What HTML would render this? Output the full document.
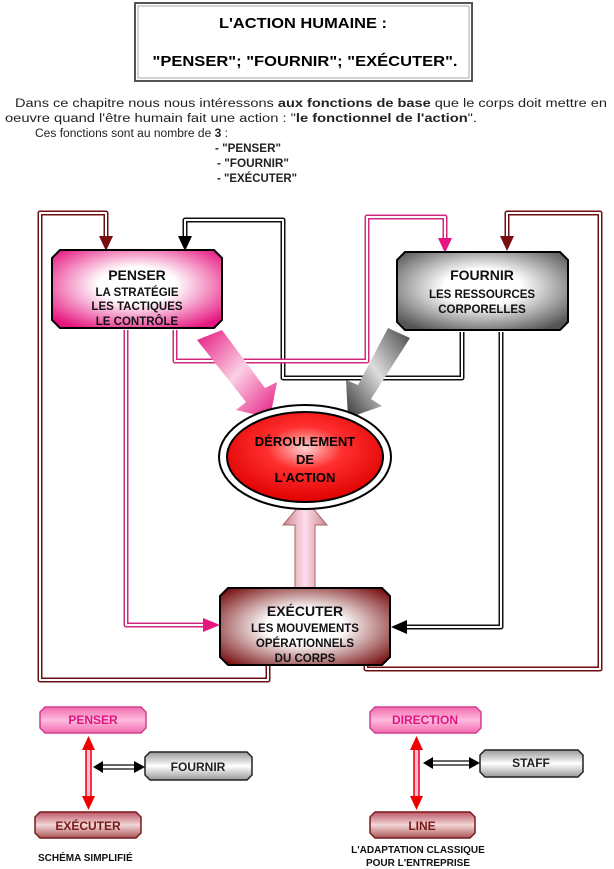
<!DOCTYPE html>
<html><head><meta charset="utf-8"><style>
html,body{margin:0;padding:0;background:#fff;}
svg{display:block;font-family:"Liberation Sans",sans-serif;}
</style></head><body>
<svg width="614" height="869" viewBox="0 0 614 869" xmlns="http://www.w3.org/2000/svg">
<defs>
<radialGradient id="gp" cx="50%" cy="45%" r="65%"><stop offset="0" stop-color="#fff"/><stop offset="0.35" stop-color="#fff"/><stop offset="1" stop-color="#e6157f"/></radialGradient>
<radialGradient id="gg" cx="50%" cy="45%" r="65%"><stop offset="0" stop-color="#fff"/><stop offset="0.35" stop-color="#fff"/><stop offset="1" stop-color="#555"/></radialGradient>
<radialGradient id="gb" cx="50%" cy="50%" r="65%"><stop offset="0" stop-color="#fff"/><stop offset="0.35" stop-color="#fff"/><stop offset="1" stop-color="#7a1416"/></radialGradient>
<radialGradient id="gr" cx="50%" cy="40%" r="60%"><stop offset="0" stop-color="#ffd0d0"/><stop offset="0.4" stop-color="#ff3030"/><stop offset="1" stop-color="#e00000"/></radialGradient>
<linearGradient id="ap" x1="0" y1="0" x2="1" y2="1"><stop offset="0" stop-color="#e6157f"/><stop offset="0.5" stop-color="#fbd0e4"/><stop offset="1" stop-color="#e6157f"/></linearGradient>
<linearGradient id="ag" x1="1" y1="0" x2="0" y2="1"><stop offset="0" stop-color="#444"/><stop offset="0.5" stop-color="#ddd"/><stop offset="1" stop-color="#333"/></linearGradient>
<linearGradient id="ab" x1="0" y1="0" x2="1" y2="0"><stop offset="0" stop-color="#c88"/><stop offset="0.5" stop-color="#fde"/><stop offset="1" stop-color="#c88"/></linearGradient>
<linearGradient id="sp" x1="0" y1="0" x2="0" y2="1"><stop offset="0" stop-color="#f06bb0"/><stop offset="0.5" stop-color="#fbd"/><stop offset="1" stop-color="#f06bb0"/></linearGradient>
<linearGradient id="sg" x1="0" y1="0" x2="0" y2="1"><stop offset="0" stop-color="#999"/><stop offset="0.5" stop-color="#fff"/><stop offset="1" stop-color="#999"/></linearGradient>
<linearGradient id="sb" x1="0" y1="0" x2="0" y2="1"><stop offset="0" stop-color="#b56"/><stop offset="0.5" stop-color="#f3d6d6"/><stop offset="1" stop-color="#a55"/></linearGradient>
</defs>

<rect x="135" y="3" width="337" height="78" fill="#fff" stroke="#555" stroke-width="2"/>
<rect x="138" y="6" width="331" height="72" fill="none" stroke="#aaa" stroke-width="1"/>
<text x="303" y="28" font-size="15" font-weight="bold" text-anchor="middle" textLength="168" lengthAdjust="spacingAndGlyphs">L'ACTION HUMAINE :</text>
<text x="305" y="66" font-size="15" font-weight="bold" text-anchor="middle" textLength="305" lengthAdjust="spacingAndGlyphs">"PENSER"; "FOURNIR"; "EXÉCUTER".</text>

<g font-size="11.5" fill="#222">
<text x="15" y="107" textLength="592" lengthAdjust="spacingAndGlyphs">Dans ce chapitre nous nous intéressons <tspan font-weight="bold">aux fonctions de base</tspan> que le corps doit mettre en</text>
<text x="5" y="122" textLength="472" lengthAdjust="spacingAndGlyphs">oeuvre quand l'être humain fait une action : "<tspan font-weight="bold">le fonctionnel de l'action</tspan>".</text>
<text x="35" y="137" textLength="193" lengthAdjust="spacingAndGlyphs">Ces fonctions sont au nombre de <tspan font-weight="bold">3</tspan> :</text>
<text x="215" y="152" font-weight="bold" textLength="66" lengthAdjust="spacingAndGlyphs">- "PENSER"</text>
<text x="217" y="167" font-weight="bold" textLength="72" lengthAdjust="spacingAndGlyphs">- "FOURNIR"</text>
<text x="217" y="182" font-weight="bold" textLength="80" lengthAdjust="spacingAndGlyphs">- "EXÉCUTER"</text>
</g>

<g fill="none" stroke-linejoin="round">
<g stroke="#6b0f12" stroke-width="5">
<path d="M106 240 V213 H40 V680 H268 V662"/>
<path d="M507 240 V213 H600 V669 H366 V662"/>
</g>
<g stroke="#fff" stroke-width="2">
<path d="M106 240 V213 H40 V680 H268 V662"/>
<path d="M507 240 V213 H600 V669 H366 V662"/>
</g>
<g stroke="#111" stroke-width="5">
<path d="M185 238 V220 H283 V378 H462 V332"/>
<path d="M501 332 V627 H405"/>
</g>
<g stroke="#fff" stroke-width="2">
<path d="M185 238 V220 H283 V378 H462 V332"/>
<path d="M501 332 V627 H405"/>
</g>
<g stroke="#d3287e" stroke-width="5">
<path d="M175 330 V361 H367 V217 H445 V240"/>
<path d="M126 330 V625 H205"/>
</g>
<g stroke="#fff" stroke-width="2">
<path d="M175 330 V361 H367 V217 H445 V240"/>
<path d="M126 330 V625 H205"/>
</g>
</g>
<polygon points="99,236 113,236 106,251" fill="#7a0d10"/>
<polygon points="500,236 514,236 507,251" fill="#7a0d10"/>
<polygon points="178,236 192,236 185,251" fill="#000"/>
<polygon points="438,238 452,238 445,253" fill="#e6157f"/>
<polygon points="203,618 203,632 220,625" fill="#e6157f"/>
<polygon points="407,620 407,634 391,627" fill="#000"/>

<polygon points="197,340 222,330 265,388 277,382 270,418 236,410 246,402" fill="url(#ap)"/>
<polygon points="410,338 388,328 358,385 346,380 348,418 382,406 371,399" fill="url(#ag)"/>
<polygon points="295,588 295,525 283,525 305,499 327,525 315,525 315,588" fill="url(#ab)" stroke="#a66" stroke-width="1"/>

<ellipse cx="305" cy="457" rx="86" ry="52" fill="#fff" stroke="#000" stroke-width="2"/>
<ellipse cx="305" cy="457" rx="78" ry="45" fill="url(#gr)" stroke="#000" stroke-width="2"/>
<g font-size="13" font-weight="bold" text-anchor="middle">
<text x="305" y="446">DÉROULEMENT</text>
<text x="305" y="464">DE</text>
<text x="305" y="482">L'ACTION</text>
</g>

<polygon points="60,250 214,250 222,258 222,320 214,328 60,328 52,320 52,258" fill="url(#gp)" stroke="#000" stroke-width="2"/>
<polygon points="405,252 560,252 568,260 568,322 560,330 405,330 397,322 397,260" fill="url(#gg)" stroke="#000" stroke-width="2"/>
<polygon points="228,588 382,588 390,596 390,657 382,665 228,665 220,657 220,596" fill="url(#gb)" stroke="#000" stroke-width="2"/>
<g font-weight="bold" text-anchor="middle" fill="#111">
<text x="137" y="280" font-size="14">PENSER</text>
<text x="137" y="296" font-size="11.5">LA STRATÉGIE</text>
<text x="137" y="310" font-size="11.5">LES TACTIQUES</text>
<text x="137" y="325" font-size="11.5">LE CONTRÔLE</text>
<text x="482" y="280" font-size="14">FOURNIR</text>
<text x="482" y="298" font-size="11.5">LES RESSOURCES</text>
<text x="482" y="313" font-size="11.5">CORPORELLES</text>
<text x="305" y="616" font-size="14">EXÉCUTER</text>
<text x="305" y="632" font-size="11.5">LES MOUVEMENTS</text>
<text x="305" y="647" font-size="11.5">OPÉRATIONNELS</text>
<text x="305" y="662" font-size="11.5">DU CORPS</text>
</g>

<g stroke-width="1.5">
<polygon points="45,707 141,707 146,712 146,728 141,733 45,733 40,728 40,712" fill="url(#sp)" stroke="#d04090"/>
<polygon points="150,752 247,752 252,757 252,775 247,780 150,780 145,775 145,757" fill="url(#sg)" stroke="#222"/>
<polygon points="40,812 136,812 141,817 141,833 136,838 40,838 35,833 35,817" fill="url(#sb)" stroke="#7a1a1a"/>
<polygon points="375,707 476,707 481,712 481,728 476,733 375,733 370,728 370,712" fill="url(#sp)" stroke="#d04090"/>
<polygon points="485,750 578,750 583,755 583,772 578,777 485,777 480,772 480,755" fill="url(#sg)" stroke="#222"/>
<polygon points="375,812 470,812 475,817 475,833 470,838 375,838 370,833 370,817" fill="url(#sb)" stroke="#7a1a1a"/>
</g>
<g font-size="12" font-weight="bold" text-anchor="middle">
<text x="93" y="724" fill="#e0157f">PENSER</text>
<text x="198" y="771" fill="#222">FOURNIR</text>
<text x="88" y="830" fill="#7a1a1a">EXÉCUTER</text>
<text x="425" y="724" fill="#e0157f">DIRECTION</text>
<text x="531" y="767" fill="#222">STAFF</text>
<text x="422" y="830" fill="#7a1a1a">LINE</text>
</g>
<rect x="86" y="748" width="5" height="50" fill="#fbd" stroke="#e00" stroke-width="1.5"/>
<polygon points="82,750 95,750 88.5,736" fill="#e00"/>
<polygon points="82,796 95,796 88.5,810" fill="#e00"/>
<rect x="414" y="748" width="5" height="50" fill="#fbd" stroke="#e00" stroke-width="1.5"/>
<polygon points="410,750 423,750 416.5,736" fill="#e00"/>
<polygon points="410,796 423,796 416.5,810" fill="#e00"/>
<rect x="101" y="765" width="35" height="4" fill="#fff" stroke="#000" stroke-width="1.2"/>
<polygon points="103,761 103,773 93,767" fill="#000"/>
<polygon points="134,761 134,773 145,767" fill="#000"/>
<rect x="431" y="761" width="40" height="4" fill="#fff" stroke="#000" stroke-width="1.2"/>
<polygon points="433,757 433,769 423,763" fill="#000"/>
<polygon points="469,757 469,769 480,763" fill="#000"/>

<g font-size="10" font-weight="bold" fill="#111">
<text x="38" y="861">SCHÉMA SIMPLIFIÉ</text>
<text x="418" y="853" text-anchor="middle">L'ADAPTATION CLASSIQUE</text>
<text x="418" y="866" text-anchor="middle">POUR L'ENTREPRISE</text>
</g>
</svg>
</body></html>
